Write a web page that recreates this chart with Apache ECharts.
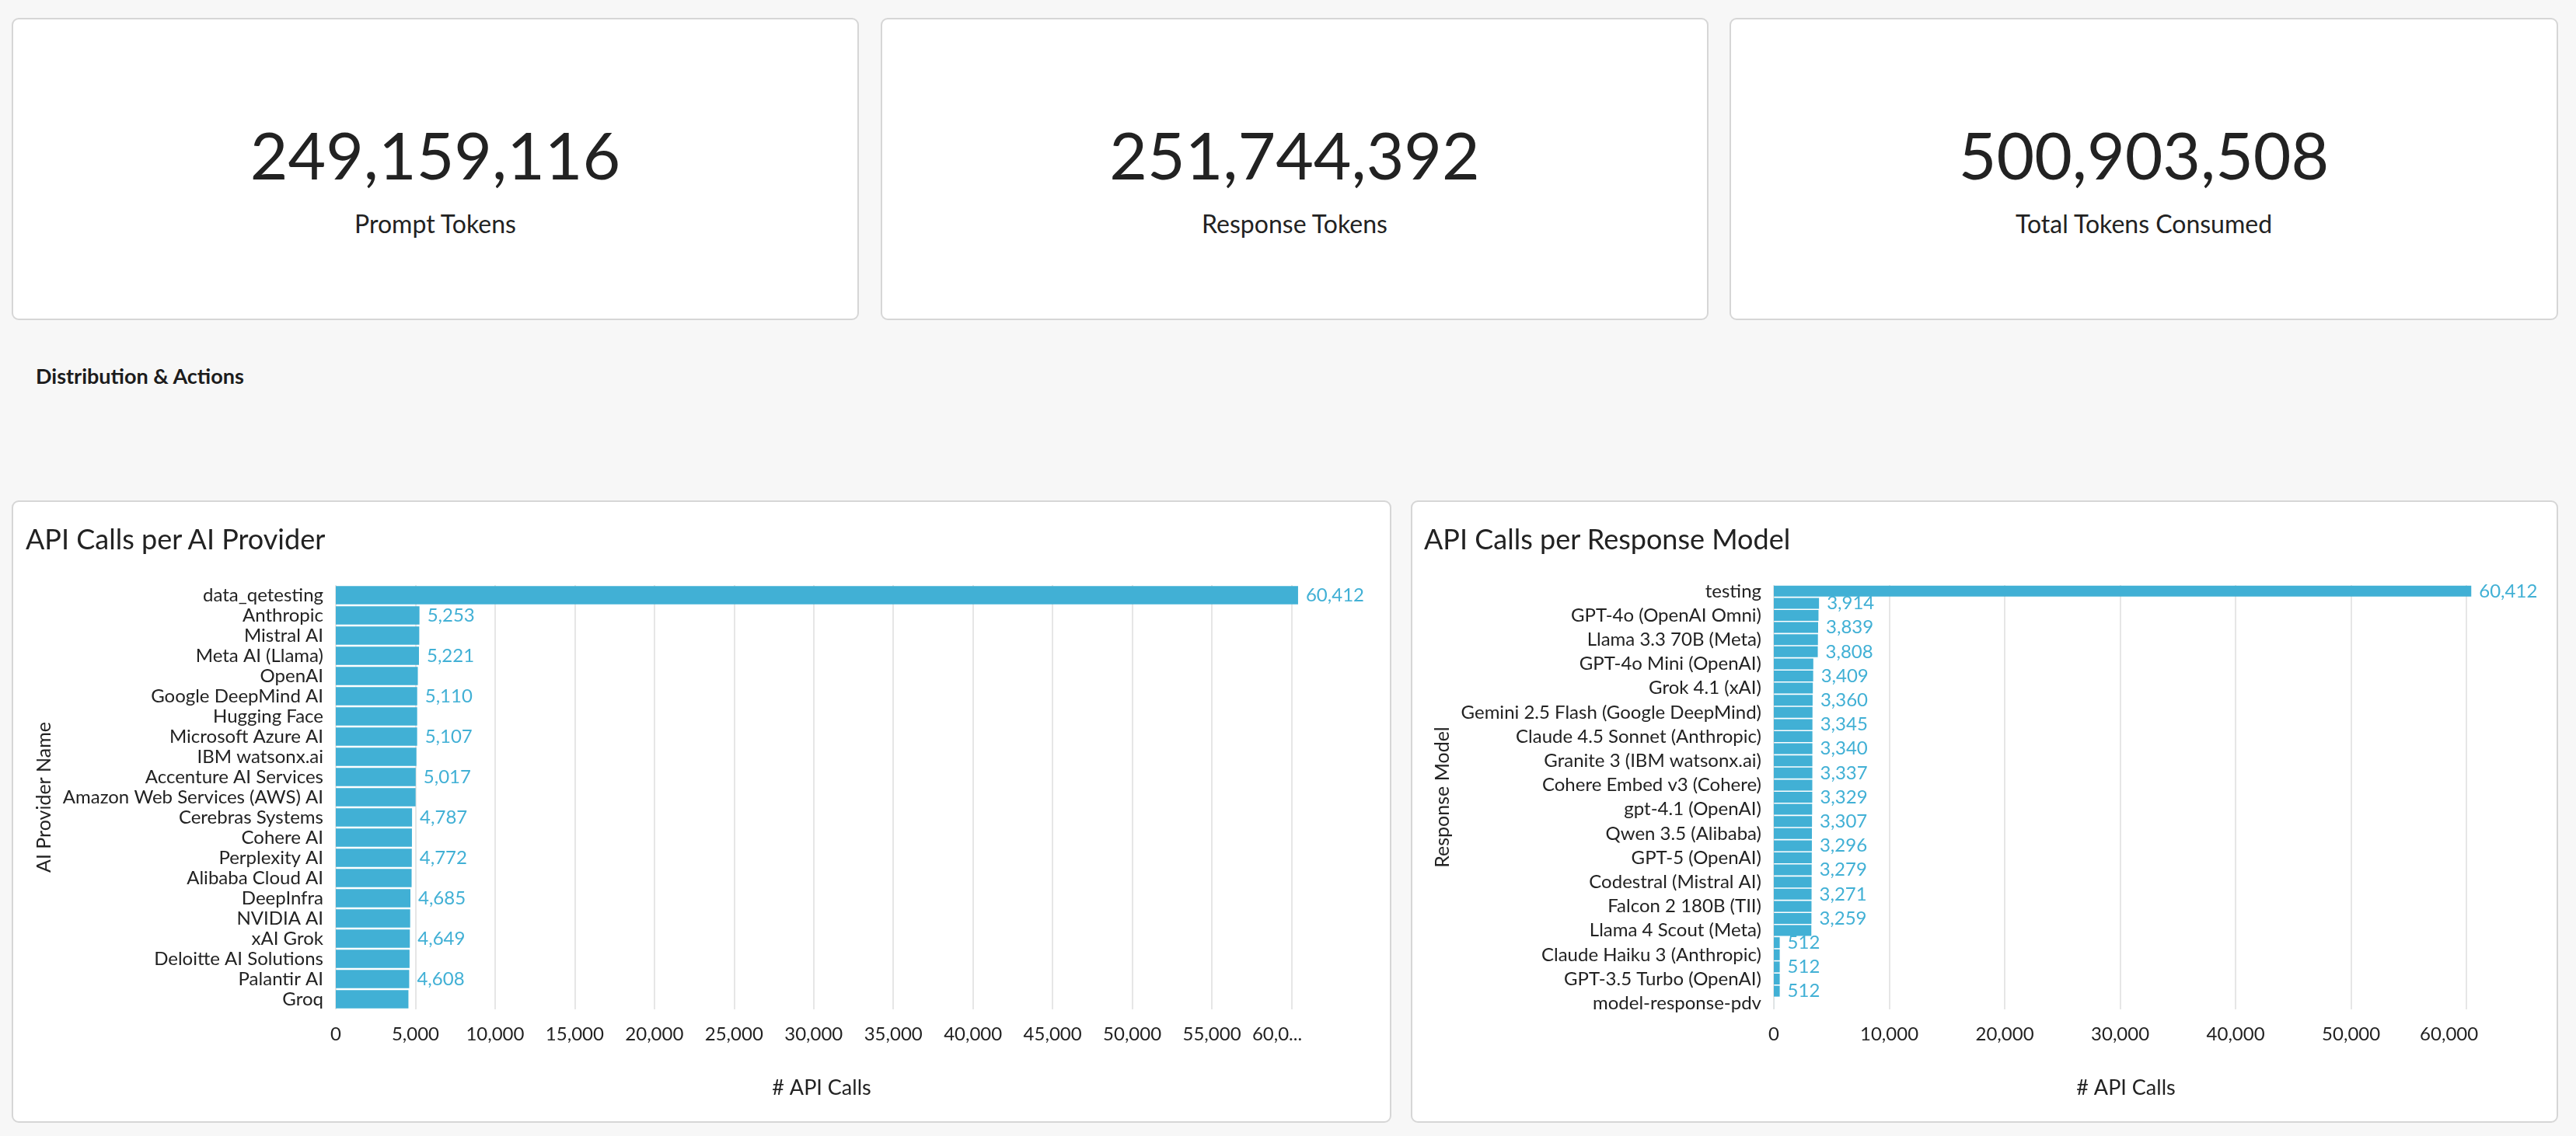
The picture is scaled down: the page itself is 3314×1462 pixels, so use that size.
<!DOCTYPE html>
<html>
<head>
<meta charset="utf-8">
<script src="https://cdn.jsdelivr.net/npm/echarts@6.0.0/dist/echarts.min.js"></script>
<style>
  html, body { margin: 0; padding: 0; }
  body { width: 3314px; height: 1462px; background: #f7f7f7; position: relative; overflow: hidden;
         font-family: Lato, "Noto Sans", sans-serif; color: #222; }
  .card { position: absolute; background: #fff; border: 2px solid #d6d6d6; border-radius: 9px; box-sizing: border-box; }
  .kpi-num { position: absolute; left: 0; right: 0; text-align: center; font-size: 84px; line-height: 1; font-weight: 400; color: #222; }
  .kpi-lab { position: absolute; left: 0; right: 0; text-align: center; font-size: 32px; line-height: 1; color: #222; }
  .heading { position: absolute; left: 46px; top: 470px; font-size: 27px; line-height: 1; font-weight: 700; color: #1c1c1c; }
  .ptitle { position: absolute; font-size: 36px; line-height: 1; color: #222; white-space: nowrap; }
  .chart { position: absolute; }
</style>
</head>
<body>
<div id="kpis"></div>
<div class="heading">Distribution &amp; Actions</div>

<div class="card" style="left:15px;top:644px;width:1775px;height:801px;"></div>
<div class="card" style="left:1815px;top:644px;width:1476px;height:801px;"></div>
<div id="chartL" class="chart" style="left:15px;top:644px;width:1775px;height:801px;"></div>
<div id="chartR" class="chart" style="left:1815px;top:644px;width:1476px;height:801px;"></div>
<div class="ptitle" style="left:33px;top:675px;">API Calls per AI Provider</div>
<div class="ptitle" style="left:1832px;top:675px;">API Calls per Response Model</div>

<script>
// ---------- data ----------
const kpiValues = [249159116, 251744392, 500903508];
const kpiLabels = ["Prompt Tokens", "Response Tokens", "Total Tokens Consumed"];

const providerNames = [
  "data_qetesting", "Anthropic", "Mistral AI", "Meta AI (Llama)", "OpenAI",
  "Google DeepMind AI", "Hugging Face", "Microsoft Azure AI", "IBM watsonx.ai",
  "Accenture AI Services", "Amazon Web Services (AWS) AI", "Cerebras Systems",
  "Cohere AI", "Perplexity AI", "Alibaba Cloud AI", "DeepInfra", "NVIDIA AI",
  "xAI Grok", "Deloitte AI Solutions", "Palantir AI", "Groq"
];
const providerCalls = [
  60412, 5253, 5240, 5221, 5150, 5110, 5108, 5107, 5060, 5017, 5010,
  4787, 4780, 4772, 4760, 4685, 4670, 4649, 4630, 4608, 4560
];

const modelNames = [
  "testing", "Mistral Large 2 (Mistral AI)", "GPT-4o (OpenAI Omni)", "Claude 3.5 Sonnet (Anthropic)",
  "Llama 3.3 70B (Meta)", "Gemini 1.5 Pro (Google DeepMind)", "GPT-4o Mini (OpenAI)", "o3-mini (OpenAI)",
  "Grok 4.1 (xAI)", "Llama 3.1 405B (Meta)", "Gemini 2.5 Flash (Google DeepMind)", "Command R+ (Cohere)",
  "Claude 4.5 Sonnet (Anthropic)", "DeepSeek V3 (DeepSeek)", "Granite 3 (IBM watsonx.ai)", "Phi-3 Medium (Microsoft)",
  "Cohere Embed v3 (Cohere)", "Nemotron 70B (NVIDIA)", "gpt-4.1 (OpenAI)", "Sonar Pro (Perplexity)",
  "Qwen 3.5 (Alibaba)", "Claude Opus 4 (Anthropic)", "GPT-5 (OpenAI)", "Gemini 2.0 Pro (Google DeepMind)",
  "Codestral (Mistral AI)", "Mixtral 8x22B (Mistral AI)", "Falcon 2 180B (TII)", "Grok 3 (xAI)",
  "Llama 4 Scout (Meta)", "Llama 3.2 3B (Meta)", "Claude Haiku 3 (Anthropic)", "text-embedding-3 (OpenAI)",
  "GPT-3.5 Turbo (OpenAI)", "Gemma 2 9B (Google DeepMind)", "model-response-pdv"
];
const modelCalls = [
  60412, 3914, 3870, 3839, 3820, 3808, 3420, 3409, 3380, 3360, 3350, 3345,
  3342, 3340, 3338, 3337, 3333, 3329, 3318, 3307, 3300, 3296, 3288, 3279,
  3275, 3271, 3265, 3259, 3250, 512, 512, 512, 512, 512, 5
];

// value-axis extents and tick spacing; truncLast: last tick label is cut short (as shown in the reference)
const providerTicks = { min: 0, max: 61000, interval: 5000, truncLast: 4 };
const modelTicks = { min: 0, max: 61000, interval: 10000, truncLast: 0 };

// ---------- KPI cards ----------
const cardBoxes = [[15, 1090], [1133, 1065], [2225, 1066]];
const kpiHost = document.getElementById('kpis');
kpiValues.forEach((v, i) => {
  const c = document.createElement('div');
  c.className = 'card';
  c.style.left = cardBoxes[i][0] + 'px';
  c.style.top = '23px';
  c.style.width = cardBoxes[i][1] + 'px';
  c.style.height = '389px';
  const n = document.createElement('div');
  n.className = 'kpi-num';
  n.style.top = '132px';
  n.textContent = v.toLocaleString('en-US');
  const l = document.createElement('div');
  l.className = 'kpi-lab';
  l.style.top = '247px';
  l.textContent = kpiLabels[i];
  c.appendChild(n); c.appendChild(l);
  kpiHost.appendChild(c);
});

// ---------- charts ----------
const BAR = '#41b0d5';
const TXT = '#222';
const FONT = 'Lato';
const fmt = v => Number(v).toLocaleString('en-US');

function barOption(names, values, ticks, grid, yName, yGap, catInterval, valLineHeight, lastPad) {
  const lastTick = Math.floor(ticks.max / ticks.interval) * ticks.interval;
  const tickFmt = v => {
    let s = fmt(v);
    if (v === lastTick) {
      if (ticks.truncLast) s = s.slice(0, ticks.truncLast) + '...';
      return '{last|' + s + '}';
    }
    return s;
  };
  return {
    animation: false,
    textStyle: { fontFamily: FONT },
    grid: Object.assign({ containLabel: false }, grid),
    xAxis: {
      type: 'value',
      min: ticks.min,
      max: ticks.max,
      interval: ticks.interval,
      name: '# API Calls',
      nameLocation: 'middle',
      nameGap: 88,
      nameTextStyle: { fontFamily: FONT, fontSize: 27, color: TXT },
      axisLine: { show: false },
      axisTick: { show: false },
      axisLabel: {
        fontFamily: FONT, fontSize: 24, color: TXT, margin: 20, formatter: tickFmt,
        showMaxLabel: false, hideOverlap: false,
        rich: { last: { fontFamily: FONT, fontSize: 24, color: TXT, padding: [0, lastPad, 0, 0] } }
      },
      splitLine: { show: true, showMaxLine: false, lineStyle: { color: '#e6e6e6', width: 2 } }
    },
    yAxis: {
      type: 'category',
      inverse: true,
      data: names,
      name: yName,
      nameLocation: 'middle',
      nameGap: yGap,
      nameRotate: 90,
      nameTextStyle: { fontFamily: FONT, fontSize: 25, color: TXT },
      axisLine: { show: false },
      axisTick: { show: false },
      axisLabel: { fontFamily: FONT, fontSize: 24, color: TXT, margin: 16, interval: catInterval }
    },
    series: [{
      type: 'bar',
      data: values,
      barCategoryGap: '10%',
      itemStyle: { color: BAR },
      label: {
        show: true, position: 'right', distance: 10,
        fontFamily: FONT, fontSize: 24, color: BAR, lineHeight: valLineHeight,
        formatter: p => fmt(p.value)
      },
      labelLayout: { hideOverlap: true }
    }]
  };
}

const chartL = echarts.init(document.getElementById('chartL'));
chartL.setOption(barOption(providerNames, providerCalls, providerTicks,
  { left: 417, right: 108, top: 109, bottom: 146 }, 'AI Provider Name', 358, 0, 30, 37));

const chartR = echarts.init(document.getElementById('chartR'));
chartR.setOption(barOption(modelNames, modelCalls, modelTicks,
  { left: 467, right: 103, top: 109, bottom: 146 }, 'Response Model', 412, 1, 24, 45));
</script>
</body>
</html>
